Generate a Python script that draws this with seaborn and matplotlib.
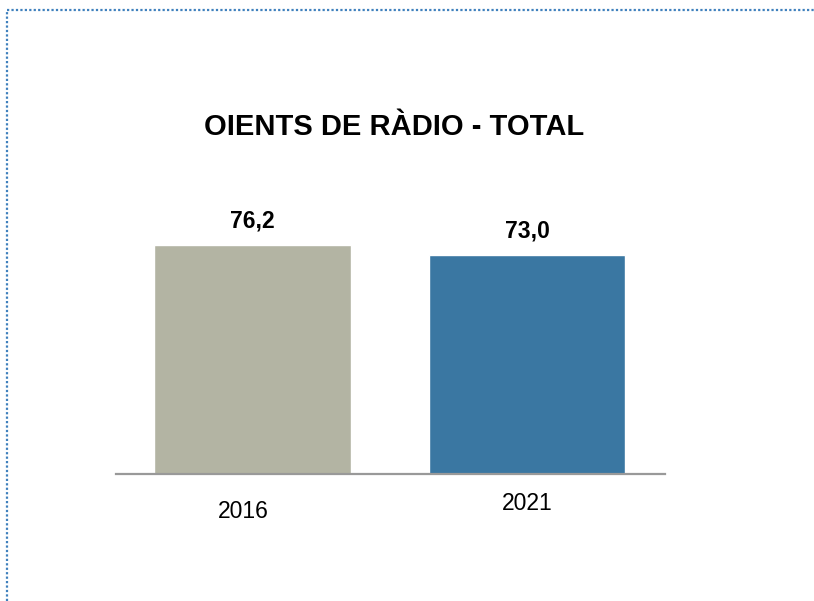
import pandas as pd
import seaborn as sns
import matplotlib.pyplot as plt
from matplotlib.lines import Line2D
from matplotlib.transforms import offset_copy

years = ["2016", "2021"]
values = [76.2, 73.0]
value_labels = ["76,2", "73,0"]
bar_colors = ["#b3b4a3", "#3a77a2"]
title = "OIENTS DE RÀDIO - TOTAL"

df = pd.DataFrame({"year": years, "value": values})

sns.set_style("white")
plt.rcParams["font.family"] = ["Liberation Sans", "DejaVu Sans"]
plt.rcParams["text.color"] = "black"

fig = plt.figure(figsize=(8.14, 6.01), dpi=100)
ax = fig.add_axes([116 / 814, 127 / 601, 549 / 814, 300 / 601])

sns.barplot(data=df, x="year", y="value", hue="year", palette=bar_colors,
            width=0.716, legend=False, saturation=1, ax=ax)

ax.set_ylim(0, 100)
ax.set_xlim(-0.495, 1.502)
ax.set_xlabel("")
ax.set_ylabel("")
ax.set_yticks([])
ax.set_xticks([])
for side in ["top", "right", "left"]:
    ax.spines[side].set_visible(False)
ax.spines["bottom"].set_color("#999999")
ax.spines["bottom"].set_linewidth(1.6)

# value labels above bars
for i, (v, lab) in enumerate(zip(values, value_labels)):
    ax.annotate(lab, (i, v), xytext=(0, 9), textcoords="offset points",
                ha="center", va="bottom", fontsize=16.5, fontweight="bold",
                color="black")

# year labels (slightly offset as in the original)
label_offsets = [(-9, -38), (0, -30)]
for i, (yr, (dx, dy)) in enumerate(zip(years, label_offsets)):
    tr = offset_copy(ax.get_xaxis_transform(), fig=fig, x=dx, y=dy, units="dots")
    ax.text(i, 0, yr, transform=tr, ha="center", va="center", fontsize=16.5,
            color="black")

fig.text(394 / 814, 1 - 127 / 601, title, ha="center", va="center",
         fontsize=21, fontweight="bold", color="black")

# dotted frame (top and left)
frame_kw = dict(color="#3f80bd", linewidth=1.6, dashes=(1, 1), transform=fig.transFigure)
fig.add_artist(Line2D([7 / 814, 1], [1 - 10 / 601, 1 - 10 / 601], **frame_kw))
fig.add_artist(Line2D([7 / 814, 7 / 814], [0, 1 - 10 / 601], **frame_kw))

plt.savefig("out.png", dpi=100)
